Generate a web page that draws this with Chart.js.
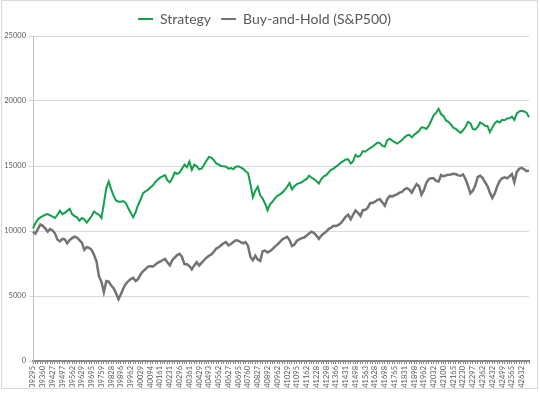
<!DOCTYPE html>
<html>
<head>
<meta charset="utf-8">
<script src="https://cdn.jsdelivr.net/npm/chart.js@4.4.1/dist/chart.umd.min.js"></script>
<style>
  html, body { margin: 0; padding: 0; background: #fff; }
  #wrap { width: 540px; height: 393px; }
</style>
</head>
<body>
<div id="wrap"><canvas id="chart" width="540" height="393"></canvas></div>
<script>
// x axis labels (Excel date serials), one every 4 plotted points
const tickLabels = [
  39295, 39360, 39427, 39497, 39562, 39629, 39695, 39759, 39828, 39896,
  39962, 40029, 40094, 40161, 40231, 40296, 40361, 40429, 40493, 40562,
  40627, 40695, 40760, 40827, 40892, 40962, 41029, 41095, 41162, 41228,
  41298, 41366, 41431, 41498, 41563, 41628, 41698, 41765, 41831, 41898,
  41962, 42032, 42100, 42165, 42230, 42297, 42362, 42432, 42499, 42565,
  42632,
];
const pointsPerTick = 4;

const strategy = [
  10200, 10600, 10900, 11050, 11150, 11250, 11300, 11200, 11100, 11000,
  11250, 11550, 11300, 11400, 11550, 11700, 11300, 11150, 11050, 10800,
  11000, 10900, 10650, 10900, 11150, 11500, 11350, 11250, 11000, 12100,
  13300, 13800, 13200, 12700, 12350, 12250, 12250, 12300, 12150, 11750,
  11400, 11050,
  11450, 12000, 12400, 12900, 13050, 13150, 13350, 13500, 13750, 13950,
  14100, 14200, 14300, 13900, 13750, 14050, 14500, 14400, 14500, 14800,
  15100, 14900, 15350, 14700, 15100, 15000, 14750, 14800, 15100, 15400,
  15700, 15650, 15450, 15200, 15100, 15000, 14980, 14950, 14800, 14850,
  14750,
  14950, 14980, 14900, 14780, 14600, 14460, 13600, 12600, 13100, 13400,
  12750, 12500, 12100, 11600, 12050, 12250, 12500, 12700, 12800, 12950,
  13150, 13400, 13700, 13200, 13450, 13600, 13680, 13750, 13900, 14000,
  14250, 14100, 14000, 13850, 13650, 14000, 14200, 14300, 14500, 14700,
  14800,
  14950, 15100, 15260, 15370, 15500, 15520, 15200, 15350, 15850, 15700,
  15800, 16150, 16100, 16250, 16380, 16500, 16650, 16800, 16760, 16550,
  16500, 16980, 17100, 16950, 16830, 16720, 16850, 17000, 17200, 17350,
  17400, 17200, 17400, 17550, 17700, 17980, 17950, 17850, 18100, 18500,
  18900,
  19100, 19400, 19000, 18850, 18500, 18400, 18200, 17950, 17850, 17700,
  17550, 17750, 18000, 18400, 18300, 17850, 17800, 18000, 18350, 18250,
  18100, 18080, 17600, 17950, 18300, 18450, 18350, 18550, 18520, 18650,
  18670, 18800, 18550, 19050, 19200, 19240, 19200, 19100, 18750,
];

const buyAndHold = [
  9950, 9800, 10150, 10500, 10400, 10200, 9950, 10150, 10050, 9800,
  9350, 9200, 9400, 9350, 9050, 9300, 9450, 9560, 9500, 9300,
  9100, 8550, 8750, 8700, 8550, 8150, 7650, 6500, 6100, 5300,
  6150, 6100, 5800, 5600, 5200, 4750, 5150, 5600, 5950, 6150,
  6300, 6400,
  6150, 6300, 6650, 6900, 7050, 7250, 7300, 7250, 7400, 7550,
  7650, 7750, 7850, 7600, 7350, 7750, 7950, 8150, 8250, 8000,
  7450, 7450, 7300, 7050, 7350, 7600, 7350, 7550, 7750, 7950,
  8100, 8200, 8400, 8650, 8750, 8900, 9050, 9150, 8900, 9000,
  9150,
  9280, 9250, 9150, 9050, 9150, 8850, 8000, 7750, 8100, 7800,
  7700, 8450, 8500, 8350, 8450, 8600, 8800, 8950, 9150, 9350,
  9450, 9550, 9300, 8850, 8950, 9250, 9350, 9450, 9500, 9650,
  9800, 9950, 9850, 9650, 9400, 9650, 9800, 9950, 10150, 10250,
  10400,
  10380, 10470, 10600, 10850, 11100, 11250, 10900, 11250, 11580, 11400,
  11150, 11600, 11630, 11800, 12150, 12160, 12250, 12400, 12450, 12200,
  11950, 12450, 12700, 12650, 12750, 12820, 12950, 13000, 13200, 13300,
  13200, 12950, 13300, 13600, 13450, 12800, 13150, 13700, 14000, 14050,
  14050,
  13850, 13800, 14300, 14200, 14280, 14320, 14350, 14400, 14380, 14280,
  14250, 14350, 14000, 13500, 12900, 13100, 13500, 14150, 14250, 14100,
  13750, 13450, 12950, 12550, 12900, 13450, 13850, 14050, 14120, 14050,
  14200, 14380, 13750, 14550, 14780, 14850, 14750, 14600, 14650,
];

const labels = strategy.map((_, i) => {
  if (i % pointsPerTick !== 0) return "";
  const t = tickLabels[i / pointsPerTick];
  return t === undefined ? "" : String(t);
});

const FONT = "Lato, 'Liberation Sans', sans-serif";
const TEXT = "#595959";

// light frame around the whole chart, like the Excel chart border
const framePlugin = {
  id: "frame",
  afterDraw(chart) {
    const ctx = chart.ctx;
    ctx.save();
    ctx.strokeStyle = "#d9d9d9";
    ctx.lineWidth = 1;
    ctx.strokeRect(1.5, 0.5, 536, 388);
    ctx.restore();
  },
};

new Chart(document.getElementById("chart").getContext("2d"), {
  type: "line",
  data: {
    labels,
    datasets: [
      {
        label: "Strategy",
        data: strategy,
        borderColor: "#13a04b",
        backgroundColor: "#13a04b",
        borderWidth: 2,
        pointRadius: 0,
        tension: 0,
      },
      {
        label: "Buy-and-Hold (S&P500)",
        data: buyAndHold,
        borderColor: "#737373",
        backgroundColor: "#737373",
        borderWidth: 2.5,
        pointRadius: 0,
        tension: 0,
      },
    ],
  },
  options: {
    responsive: false,
    animation: false,
    layout: { padding: { top: 2, right: 11, bottom: 0, left: 0 } },
    plugins: {
      legend: {
        position: "top",
        labels: {
          font: { family: FONT, size: 14 },
          color: TEXT,
          boxWidth: 15,
          boxHeight: 2,
          padding: 10,
          generateLabels: (chart) =>
            Chart.defaults.plugins.legend.labels
              .generateLabels(chart)
              .map((l) => ({ ...l, fillStyle: l.strokeStyle, lineWidth: 0 })),
        },
      },
      tooltip: { enabled: false },
    },
    scales: {
      x: {
        ticks: {
          autoSkip: false,
          minRotation: 90,
          maxRotation: 90,
          padding: 2,
          color: TEXT,
          font: { family: FONT, size: 7.5 },
        },
        grid: { drawOnChartArea: false, tickLength: 3, color: "#8a8a8a" },
        border: { color: "#8a8a8a", width: 2 },
        afterFit: (s) => {
          s.height = 32;
        },
      },
      y: {
        min: 0,
        max: 25000,
        ticks: {
          stepSize: 5000,
          padding: 3,
          color: TEXT,
          font: { family: FONT, size: 7.5 },
          callback: (v) => String(v),
        },
        grid: { color: "#d9d9d9", tickLength: 4 },
        border: { color: "#bfbfbf" },
        afterFit: (s) => {
          s.width = 33;
        },
      },
    },
  },
  plugins: [framePlugin],
});
</script>
</body>
</html>
